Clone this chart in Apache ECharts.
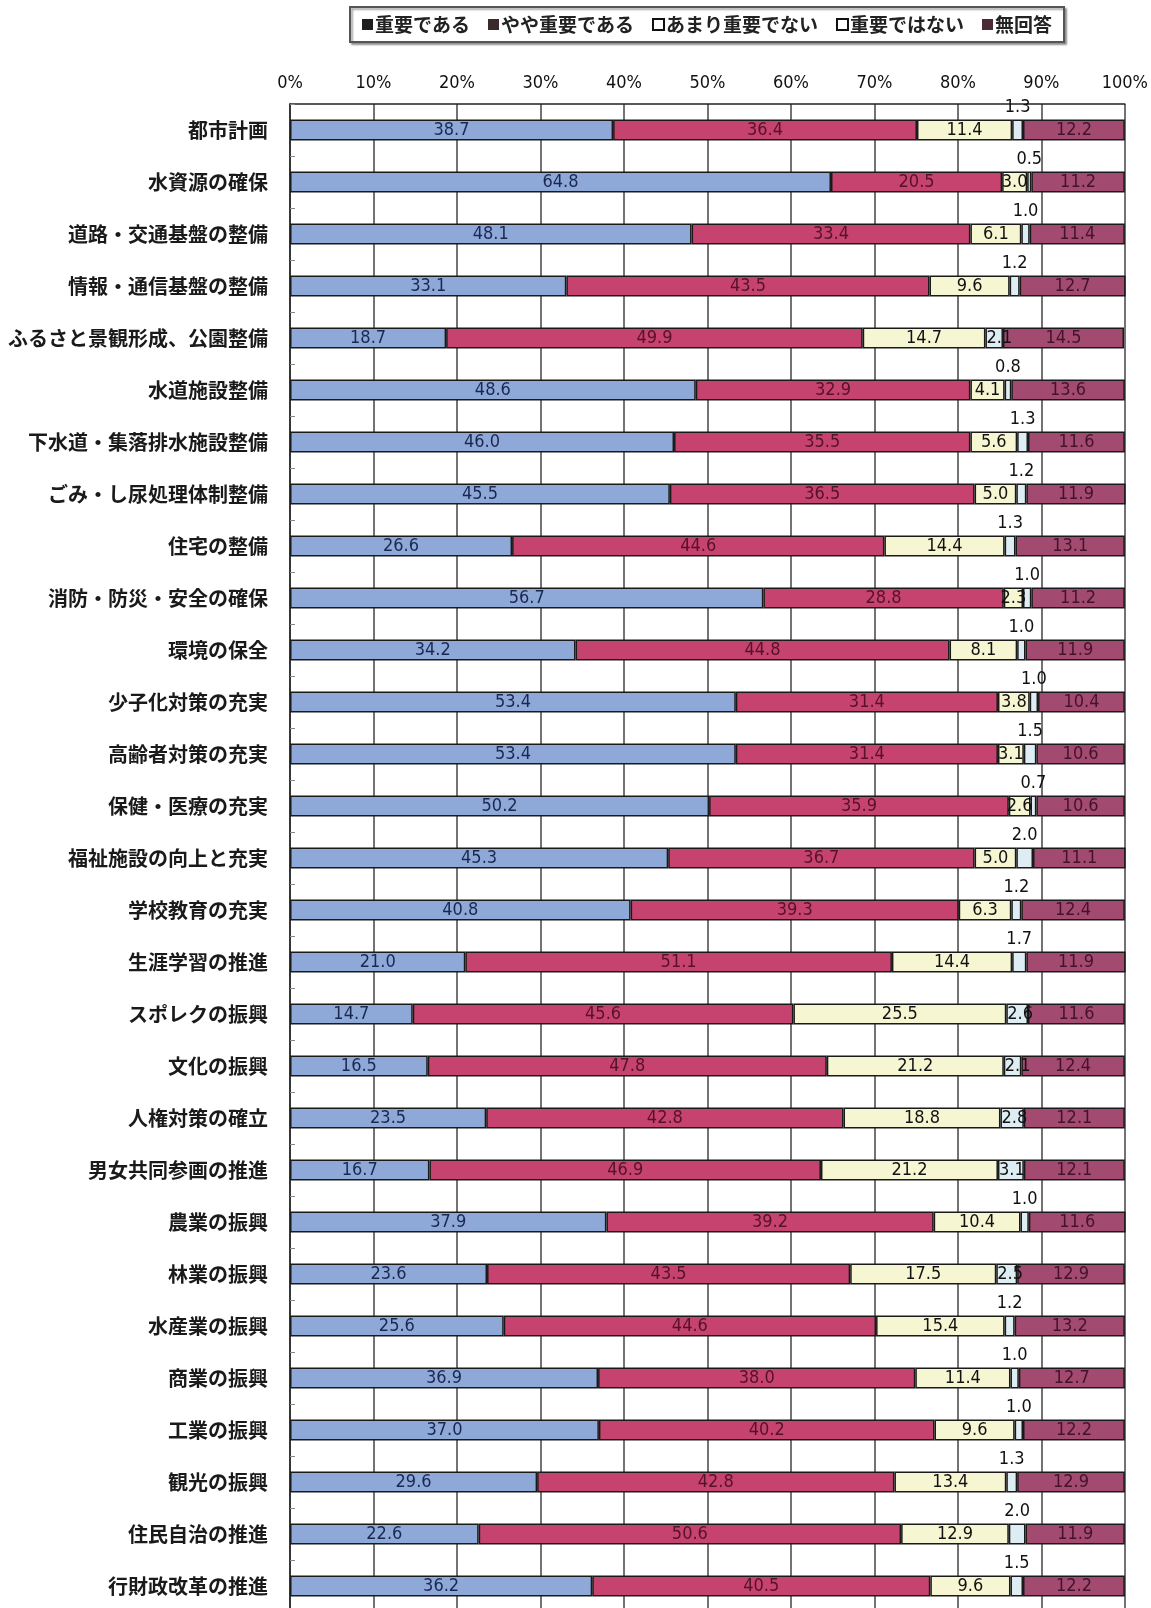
<!DOCTYPE html>
<html>
<head>
<meta charset="utf-8">
<script src="https://cdn.jsdelivr.net/npm/echarts@6/dist/echarts.min.js"></script>
<style>
html,body{margin:0;padding:0;background:#fff;overflow:hidden;}
#chart{width:1151px;height:1612px;}
</style>
</head>
<body>
<div id="chart"></div>
<script>
const categories = [
  '都市計画','水資源の確保','道路・交通基盤の整備','情報・通信基盤の整備','ふるさと景観形成、公園整備',
  '水道施設整備','下水道・集落排水施設整備','ごみ・し尿処理体制整備','住宅の整備','消防・防災・安全の確保',
  '環境の保全','少子化対策の充実','高齢者対策の充実','保健・医療の充実','福祉施設の向上と充実',
  '学校教育の充実','生涯学習の推進','スポレクの振興','文化の振興','人権対策の確立',
  '男女共同参画の推進','農業の振興','林業の振興','水産業の振興','商業の振興',
  '工業の振興','観光の振興','住民自治の推進','行財政改革の推進'
];
const seriesNames = ['重要である','やや重要である','あまり重要でない','重要ではない','無回答'];
const important   = [38.7,64.8,48.1,33.1,18.7,48.6,46.0,45.5,26.6,56.7,34.2,53.4,53.4,50.2,45.3,40.8,21.0,14.7,16.5,23.5,16.7,37.9,23.6,25.6,36.9,37.0,29.6,22.6,36.2];
const somewhat    = [36.4,20.5,33.4,43.5,49.9,32.9,35.5,36.5,44.6,28.8,44.8,31.4,31.4,35.9,36.7,39.3,51.1,45.6,47.8,42.8,46.9,39.2,43.5,44.6,38.0,40.2,42.8,50.6,40.5];
const notVery     = [11.4,3.0,6.1,9.6,14.7,4.1,5.6,5.0,14.4,2.3,8.1,3.8,3.1,2.6,5.0,6.3,14.4,25.5,21.2,18.8,21.2,10.4,17.5,15.4,11.4,9.6,13.4,12.9,9.6];
const notImportant= [1.3,0.5,1.0,1.2,2.1,0.8,1.3,1.2,1.3,1.0,1.0,1.0,1.5,0.7,2.0,1.2,1.7,2.6,2.1,2.8,3.1,1.0,2.5,1.2,1.0,1.0,1.3,2.0,1.5];
const noAnswer    = [12.2,11.2,11.4,12.7,14.5,13.6,11.6,11.9,13.1,11.2,11.9,10.4,10.6,10.6,11.1,12.4,11.9,11.6,12.4,12.1,12.1,11.6,12.9,13.2,12.7,12.2,12.9,11.9,12.2];
const tickLabels = ['0%','10%','20%','30%','40%','50%','60%','70%','80%','90%','100%'];

const NARROW = "'Liberation Sans Narrow','DejaVu Sans Condensed','Roboto Condensed',sans-serif";
const fmt = p => Number(p.value).toFixed(1);
const border = {borderColor:'#1a1a1a', borderWidth:1.5};

function mk(name, data, color, labelColor) {
  return {
    name: name, type:'bar', stack:'total', barWidth:21,
    data: data,
    itemStyle: Object.assign({color: color}, border),
    label: {show:true, position:'inside', color: labelColor, fontSize:18, fontFamily: NARROW, formatter: fmt},
    emphasis: {disabled:true}
  };
}

const s4data = notImportant.map(v => v > 2.0
  ? {value: v, label: {position:'insideLeft', distance: 1}}
  : {value: v, label: {position:'top', distance: 3, color:'#111'}});

const chart = echarts.init(document.getElementById('chart'), null, {renderer:'canvas'});
chart.setOption({
  backgroundColor:'#ffffff',
  animation:false,
  legend: {
    left: 350, top: 7,
    padding: [8, 12, 8, 12],
    itemGap: 18, itemWidth: 11, itemHeight: 11,
    borderColor:'#555', borderWidth: 2,
    shadowColor:'rgba(0,0,0,0.35)', shadowBlur:2, shadowOffsetX:2, shadowOffsetY:2,
    backgroundColor:'#fff',
    icon:'rect',
    textStyle: {fontFamily:"'Noto Sans CJK JP',sans-serif", fontSize:19, color:'#222', fontWeight:'bold', padding:[0,0,0,-3]},
    data: [
      {name: seriesNames[0], itemStyle:{color:'#1e1e1e', borderWidth:0}},
      {name: seriesNames[1], itemStyle:{color:'#3b2a2c', borderWidth:0}},
      {name: seriesNames[2], itemStyle:{color:'#ffffff', borderColor:'#111', borderWidth:2}},
      {name: seriesNames[3], itemStyle:{color:'#ffffff', borderColor:'#111', borderWidth:2}},
      {name: seriesNames[4], itemStyle:{color:'#4a2a36', borderWidth:0}}
    ]
  },
  grid: {left: 290, right: 21, top: 104, height: 1508, containLabel:false},
  xAxis: {
    type:'value', position:'top', min:0, max:100, interval:10,
    axisLine:{show:true, lineStyle:{color:'#222', width:1.5}},
    axisTick:{show:false},
    axisLabel:{margin:12, fontSize:18, color:'#111', fontFamily:NARROW,
      formatter: v => tickLabels[Math.round(v/10)]},
    splitLine:{show:true, lineStyle:{color:'#444', width:1.5}}
  },
  yAxis: {
    type:'category', inverse:true, data: categories,
    axisLine:{show:true, lineStyle:{color:'#222', width:1.5}},
    axisTick:{show:true, inside:true, length:5, lineStyle:{color:'#888'}},
    axisLabel:{margin:22, fontSize:20, fontWeight:'bold', color:'#1a1a1a', fontFamily:"'Noto Sans CJK JP',sans-serif"}
  },
  series: [
    mk(seriesNames[0], important, '#8ea8d8', '#1a2850'),
    mk(seriesNames[1], somewhat, '#c6426f', '#55122a'),
    mk(seriesNames[2], notVery, '#f7f6d2', '#111111'),
    mk(seriesNames[3], s4data, '#deedf3', '#111111'),
    mk(seriesNames[4], noAnswer, '#a24a70', '#45122b')
  ]
});
</script>
</body>
</html>
